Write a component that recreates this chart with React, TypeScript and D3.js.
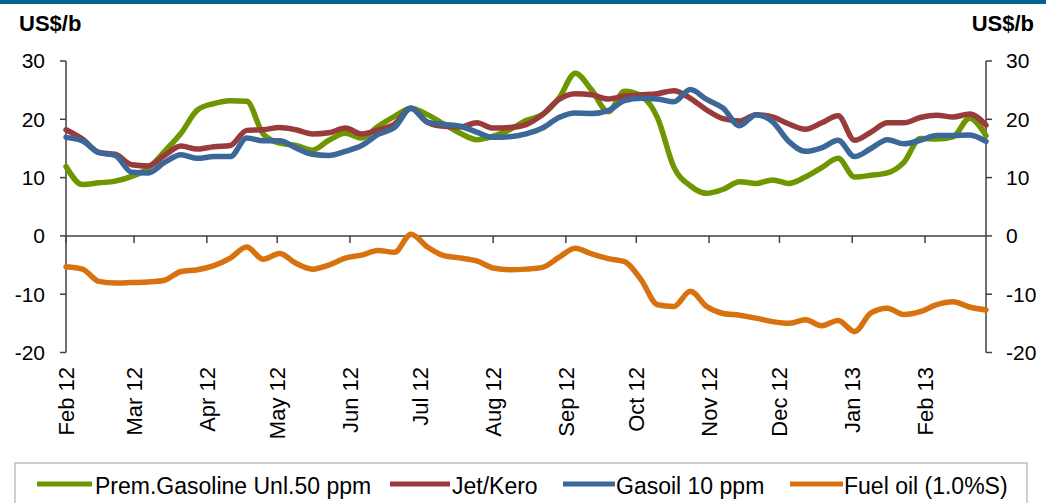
import React from "react";
import * as d3 from "d3";

const DATES = [
  "2012-02-01","2012-02-08","2012-02-15","2012-02-22","2012-02-29","2012-03-07","2012-03-14","2012-03-21","2012-03-28",
  "2012-04-04","2012-04-11","2012-04-18","2012-04-25","2012-05-02","2012-05-09","2012-05-16","2012-05-23","2012-05-30",
  "2012-06-06","2012-06-13","2012-06-20","2012-06-27","2012-07-04","2012-07-11","2012-07-18","2012-07-25",
  "2012-08-01","2012-08-08","2012-08-15","2012-08-22","2012-08-29","2012-09-05","2012-09-12","2012-09-19","2012-09-26",
  "2012-10-03","2012-10-10","2012-10-17","2012-10-24","2012-10-31","2012-11-07","2012-11-14","2012-11-21","2012-11-28",
  "2012-12-05","2012-12-12","2012-12-19","2012-12-26","2013-01-02","2013-01-09","2013-01-16","2013-01-23","2013-01-30",
  "2013-02-06","2013-02-13","2013-02-20","2013-02-27",
];

const GASOLINE = [
  11.9, 8.8, 9.1, 9.4, 10.2, 11.6, 14.5, 17.6, 21.6, 22.7, 23.2, 23.1, 17.5, 15.9, 15.5, 14.7, 16.4, 17.6, 16.8,
  18.8, 20.5, 21.9, 20.8, 19.2, 17.6, 16.5, 17.1, 18.2, 19.8, 20.8, 23.6, 27.9, 25.0, 21.3, 24.8, 24.0, 20.3, 11.8,
  8.6, 7.3, 8.0, 9.3, 9.0, 9.6, 9.0, 10.1, 11.7, 13.3, 10.1, 10.4, 10.8, 12.6, 16.7, 16.6, 17.0, 20.2, 17.2,
];
const JETKERO = [
  18.2, 16.6, 14.3, 14.0, 12.2, 12.0, 13.8, 15.4, 14.9, 15.3, 15.5, 18.1, 18.2, 18.6, 18.2, 17.5, 17.7, 18.5, 17.5,
  18.2, 19.2, 21.9, 19.5, 18.8, 18.7, 19.4, 18.5, 18.6, 19.1, 20.8, 23.4, 24.4, 24.2, 23.5, 24.0, 24.2, 24.4, 24.9,
  23.6, 21.6, 20.1, 19.7, 20.8, 20.4, 19.2, 18.3, 19.4, 20.6, 16.4, 17.8, 19.4, 19.4, 20.3, 20.7, 20.4, 20.9, 19.0,
];
const GASOIL = [
  16.9, 16.3, 14.3, 13.8, 10.9, 10.8, 12.6, 13.9, 13.3, 13.6, 13.6, 16.8, 16.3, 16.3, 15.1, 14.0, 13.8, 14.5, 15.5,
  17.4, 18.6, 21.9, 19.5, 19.1, 18.8, 17.8, 16.9, 17.0, 17.5, 18.5, 20.3, 21.1, 21.0, 21.5, 23.2, 23.6, 23.5, 23.0,
  25.1, 23.4, 21.9, 18.9, 20.8, 19.6, 16.2, 14.5, 15.1, 16.4, 13.6, 15.0, 16.5, 15.8, 16.4, 17.2, 17.2, 17.3, 16.2,
];
const FUELOIL = [
  -5.3, -5.7, -7.8, -8.1, -8.0, -7.9, -7.6, -6.1, -5.8, -5.1, -3.8, -1.9, -4.0, -3.0, -4.7, -5.7, -5.0, -3.8, -3.3,
  -2.5, -2.8, 0.3, -1.9, -3.4, -3.8, -4.3, -5.5, -5.8, -5.7, -5.4, -3.7, -2.1, -3.1, -3.9, -4.4, -7.5, -11.8, -12.1,
  -9.5, -12.1, -13.3, -13.6, -14.1, -14.7, -15.0, -14.4, -15.4, -14.5, -16.4, -13.2, -12.4, -13.5, -13.0, -11.8, -11.3, -12.2, -12.7,
];

const SERIES_NAMES = ["Prem.Gasoline Unl.50 ppm", "Jet/Kero", "Gasoil 10 ppm", "Fuel oil (1.0%S)"];
const SERIES_VALUES = [GASOLINE, JETKERO, GASOIL, FUELOIL];
const SERIES_COLORS = ["#6e9600", "#9a3b3b", "#3b6799", "#d8720f"];
const Y_TICKS = [-20, -10, 0, 10, 20, 30];
const UNIT_LABEL = "US$/b";

const FONT = "'Liberation Sans', Arial, sans-serif";

export default function App() {
  const W = 1046, H = 503;
  const parse = d3.timeParse("%Y-%m-%d");
  const dates = DATES.map((d) => parse(d) as Date);
  const left = 66, right = 986, top = 61, bottom = 352.5;

  const x = d3.scaleTime().domain([dates[0], dates[dates.length - 1]]).range([left, right]);
  const y = d3.scaleLinear().domain([-20, 30]).range([bottom, top]);

  const months = d3.timeMonth.range(new Date(2012, 1, 1), new Date(2013, 1, 28));
  const fmt = d3.timeFormat("%b %y");

  const line = d3
    .line<number>()
    .x((_, i) => x(dates[i]))
    .y((v) => y(v))
    .curve(d3.curveMonotoneX);

  const axisColor = "#404040";
  const legendX = [
    { s: 37, e: 92, t: 95 },
    { s: 390, e: 450, t: 452 },
    { s: 563, e: 615, t: 616 },
    { s: 790, e: 843, t: 844 },
  ];

  return (
    <svg
      width={W}
      height={H}
      style={{ position: "absolute", left: 0, top: 0, background: "#fff" }}
      fontFamily={FONT}
    >
      <rect x={0} y={0} width={W} height={H} fill="#fff" />
      <rect x={0} y={0} width={W} height={4} fill="#00648c" />

      <text x={19} y={31} fontSize={22} fontWeight="bold" fill="#000">{UNIT_LABEL}</text>
      <text x={1034} y={31} fontSize={22} fontWeight="bold" fill="#000" textAnchor="end">{UNIT_LABEL}</text>

      {/* left axis */}
      <line x1={left} x2={left} y1={y(30)} y2={y(-20)} stroke={axisColor} strokeWidth={1.5} />
      {Y_TICKS.map((t) => (
        <g key={"l" + t}>
          <line x1={left - 6} x2={left} y1={y(t)} y2={y(t)} stroke={axisColor} strokeWidth={1.5} />
          <text x={45} y={y(t)} dy="0.35em" fontSize={21} textAnchor="end" fill="#000">{t}</text>
        </g>
      ))}
      {/* right axis */}
      <line x1={right} x2={right} y1={y(30)} y2={y(-20)} stroke={axisColor} strokeWidth={1.5} />
      {Y_TICKS.map((t) => (
        <g key={"r" + t}>
          <line x1={right} x2={right + 6} y1={y(t)} y2={y(t)} stroke={axisColor} strokeWidth={1.5} />
          <text x={1006} y={y(t)} dy="0.35em" fontSize={21} textAnchor="start" fill="#000">{t}</text>
        </g>
      ))}
      {/* x axis at zero */}
      <line x1={left} x2={right} y1={y(0)} y2={y(0)} stroke={axisColor} strokeWidth={1.5} />
      {months.map((m) => (
        <g key={m.toISOString()}>
          <line x1={x(m)} x2={x(m)} y1={y(0)} y2={y(0) + 7} stroke={axisColor} strokeWidth={1.5} />
          <text
            transform={`translate(${x(m)},367) rotate(-90)`}
            dy="0.35em"
            fontSize={22}
            textAnchor="end"
            fill="#000"
          >
            {fmt(m)}
          </text>
        </g>
      ))}

      {SERIES_VALUES.map((vals, k) => (
        <path
          key={SERIES_NAMES[k]}
          d={line(vals) || ""}
          fill="none"
          stroke={SERIES_COLORS[k]}
          strokeWidth={5.5}
          strokeLinejoin="round"
          strokeLinecap="round"
        />
      ))}

      {/* legend */}
      <rect x={15} y={463} width={1012} height={60} fill="none" stroke="#bfbfbf" strokeWidth={1.5} />
      {SERIES_NAMES.map((n, k) => (
        <g key={"lg" + n}>
          <line x1={legendX[k].s} x2={legendX[k].e} y1={484} y2={484} stroke={SERIES_COLORS[k]} strokeWidth={5} />
          <text x={legendX[k].t} y={494} fontSize={23} fill="#000">{n}</text>
        </g>
      ))}
    </svg>
  );
}
